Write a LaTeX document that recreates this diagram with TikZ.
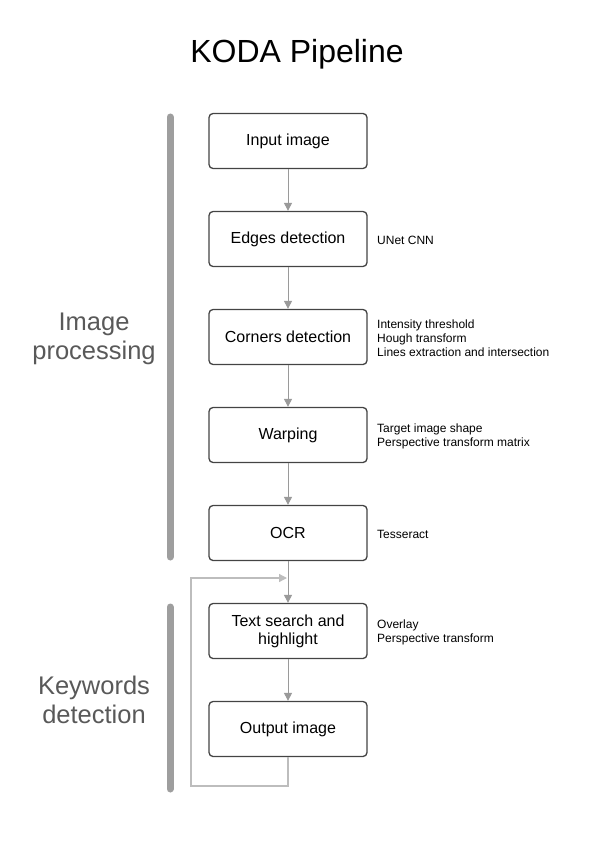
\documentclass[tikz,border=0pt]{standalone}
\usepackage{fontspec}
\setmainfont{Liberation Sans}
\usetikzlibrary{arrows.meta}
\definecolor{boxline}{HTML}{444444}
\definecolor{flowgray}{HTML}{9A9A9A}
\definecolor{loopgray}{HTML}{BDBDBD}
\definecolor{bargray}{HTML}{9E9E9E}
\definecolor{labelgray}{HTML}{595959}
\tikzset{
  stagebox/.style={draw=boxline, line width=1.3pt, rounded corners=4pt, minimum width=158pt, minimum height=55pt, align=center, font=\fontsize{16}{18}\selectfont, inner sep=0pt},
  note/.style={anchor=west, align=left, font=\fontsize{12}{14}\selectfont, inner sep=0pt},
  flow/.style={draw=flowgray, line width=1pt, -{Triangle[width=8pt,length=8pt]}},
  backflow/.style={draw=loopgray, line width=1.3pt, -{Triangle[width=8pt,length=8pt]}},
  groupbar/.style={draw=bargray, line width=7pt, line cap=round},
  grouplabel/.style={text=labelgray, align=center, font=\fontsize{25.5}{29}\selectfont}
}
\begin{document}
\begin{tikzpicture}[x=1pt, y=-1pt]
			%%%%% START %%%%%
			\useasboundingbox (0, 0) rectangle (595, 842);
			
			\node[font=\fontsize{32}{36}\selectfont] (title) at (297, 54) {KODA Pipeline};
			
			\node[stagebox] (input) at (288, 141) {Input image};
			\node[stagebox] (edges) at (288, 239) {Edges detection};
			\node[stagebox] (corners) at (288, 337) {Corners detection};
			\node[stagebox] (warp) at (288, 435) {Warping};
			\node[stagebox] (ocr) at (288, 533) {OCR};
			\node[stagebox] (search) at (288, 631) {Text search and\\highlight};
			\node[stagebox] (output) at (288, 729) {Output image};
			
			\node[note] (edgesnote) at (377, 240) {UNet CNN};
			\node[note] (cornersnote) at (377, 338) {Intensity threshold\\Hough transform\\Lines extraction and intersection};
			\node[note] (warpnote) at (377, 436) {Target image shape\\Perspective transform matrix};
			\node[note] (ocrnote) at (377, 534) {Tesseract};
			\node[note] (searchnote) at (377, 632) {Overlay\\Perspective transform};
			
			\draw[flow] (input) -- (edges);
			\draw[flow] (edges) -- (corners);
			\draw[flow] (corners) -- (warp);
			\draw[flow] (warp) -- (ocr);
			\draw[flow] (ocr) -- (search);
			\draw[flow] (search) -- (output);
			
			\coordinate (loopcorner) at (191, 786);
			\coordinate (loopjoin) at (287, 578);
			\draw[backflow] (output.south) |- (loopcorner) |- (loopjoin);
			
			\draw[groupbar] (170, 117) -- (170, 557);
			\draw[groupbar] (170, 607) -- (170, 789);
			
			\node[grouplabel] (proclabel) at (94, 339) {Image\\processing};
			\node[grouplabel] (kwlabel) at (94, 700) {Keywords\\detection};
			
			%%%%% END %%%%%
		\end{tikzpicture}
\end{document}
